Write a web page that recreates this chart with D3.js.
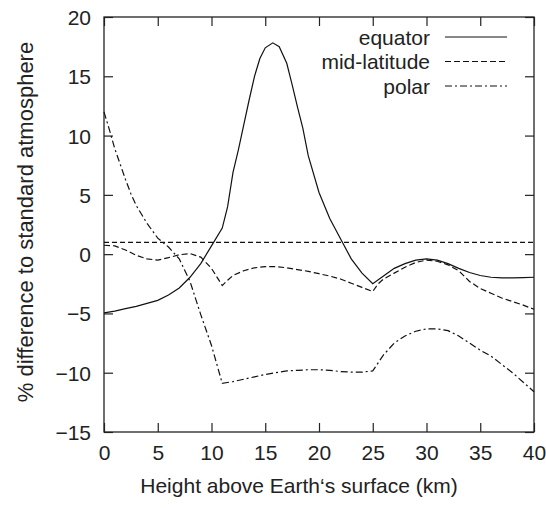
<!DOCTYPE html>
<html>
<head>
<meta charset="utf-8">
<script src="https://cdn.jsdelivr.net/npm/d3@7"></script>
<style>
  body { margin: 0; background: #fff; }
  text { font-family: "Liberation Sans", Arial, sans-serif; fill: #222; }
</style>
</head>
<body>
<svg id="chart" width="546" height="508"></svg>
<script>
// ---- data ----
const xTicks = [0, 5, 10, 15, 20, 25, 30, 35, 40];
const yTicks = [-15, -10, -5, 0, 5, 10, 15, 20];
const seriesNames = ["equator", "mid-latitude", "polar"];
const referenceLevel = 1;

const equatorX = [0,1,2,3,4,5,6,7,8,9,10,11,11.5,12,12.5,13,13.5,14,14.5,15,15.7,16.3,17,17.5,18,18.5,19,20,21,22,23,24,25,26,27,28,29,30,31,32,33,34,35,36,37,38,39,40];
const equatorY = [-4.95,-4.8,-4.6,-4.4,-4.15,-3.9,-3.45,-2.85,-1.95,-0.8,0.7,2.2,4.0,6.9,8.8,10.9,13.0,15.0,16.5,17.4,17.82,17.5,16.1,14.3,12.4,10.6,8.3,5.2,3.0,1.3,-0.4,-1.6,-2.5,-1.85,-1.2,-0.8,-0.5,-0.4,-0.5,-0.8,-1.2,-1.55,-1.8,-1.95,-2.0,-2.0,-1.98,-1.95];

const midX = [0,1,2,3,4,5,6,7,8,9,10,11,11.5,12,13,14,15,16,17,18,19,20,21,22,23,24,25,25.5,26,27,28,29,30,31,32,33,34,35,36,37,38,39,40];
const midY = [0.75,0.7,0.35,-0.1,-0.4,-0.5,-0.3,-0.05,0.05,-0.25,-1.2,-2.65,-2.2,-1.8,-1.4,-1.15,-1.05,-1.05,-1.15,-1.3,-1.45,-1.65,-1.85,-2.1,-2.45,-2.8,-3.15,-2.5,-2.1,-1.6,-1.1,-0.7,-0.5,-0.6,-0.9,-1.4,-2.3,-2.9,-3.3,-3.7,-4.0,-4.3,-4.65];

const polarX = [0,0.5,1,1.5,2,2.5,3,4,5,6,7,8,9,10,11,12,13,14,15,16,17,18,19,20,21,22,23,24,25,26,27,28,29,30,31,32,33,34,35,36,37,38,39,40];
const polarY = [12.0,10.5,8.9,7.6,6.3,5.1,4.1,2.6,1.35,0.6,-0.4,-2.3,-5.1,-7.7,-10.9,-10.75,-10.55,-10.35,-10.15,-10.0,-9.85,-9.8,-9.75,-9.75,-9.8,-9.9,-9.95,-9.95,-9.85,-8.5,-7.5,-6.9,-6.5,-6.3,-6.3,-6.45,-6.9,-7.5,-8.1,-8.6,-9.3,-10.0,-10.8,-11.6];

// ---- layout ----
const svg = d3.select("#chart");
const mLeft = 104, mRight = 534, mTop = 17, mBottom = 432;
const x = d3.scaleLinear().domain([0, 40]).range([mLeft, mRight]);
const y = d3.scaleLinear().domain([-15, 20]).range([mBottom, mTop]);

const series = [
  {name: seriesNames[0], xs: equatorX, ys: equatorY, dash: null},
  {name: seriesNames[1], xs: midX, ys: midY, dash: "6,3"},
  {name: seriesNames[2], xs: polarX, ys: polarY, dash: "7,3,2,3"}
];

// axes with inward ticks (mirrored)
const tickLen = 9;
const gB = svg.append("g").attr("transform", `translate(0,${mBottom})`)
  .call(d3.axisBottom(x).tickValues(xTicks).tickSizeInner(-tickLen).tickSizeOuter(0).tickPadding(13));
const gT = svg.append("g").attr("transform", `translate(0,${mTop})`)
  .call(d3.axisTop(x).tickValues(xTicks).tickSizeInner(-tickLen).tickSizeOuter(0).tickFormat(""));
const gL = svg.append("g").attr("transform", `translate(${mLeft},0)`)
  .call(d3.axisLeft(y).tickValues(yTicks).tickSizeInner(-tickLen).tickSizeOuter(0).tickPadding(13));
const gR = svg.append("g").attr("transform", `translate(${mRight},0)`)
  .call(d3.axisRight(y).tickValues(yTicks).tickSizeInner(-tickLen).tickSizeOuter(0).tickFormat(""));

[gB, gT, gL, gR].forEach(g => {
  g.select(".domain").remove();
  g.selectAll(".tick line").attr("stroke", "#222").attr("stroke-width", 1.2);
  g.selectAll("text").attr("font-size", 21).attr("fill", "#222")
    .attr("font-family", "'Liberation Sans', Arial, sans-serif");
});
gL.selectAll("text").attr("dy", "0.36em");
gB.selectAll("text").attr("dy", "0.71em");

// frame
svg.append("rect").attr("x", mLeft).attr("y", mTop)
  .attr("width", mRight - mLeft).attr("height", mBottom - mTop)
  .attr("fill", "none").attr("stroke", "#222").attr("stroke-width", 1.3);

// reference line
svg.append("line")
  .attr("x1", x(0)).attr("x2", x(40))
  .attr("y1", y(referenceLevel)).attr("y2", y(referenceLevel))
  .attr("stroke", "#111").attr("stroke-width", 1.2).attr("stroke-dasharray", "5,3");

// series
const line = d3.line().x(d => x(d[0])).y(d => y(d[1]));
series.forEach(s => {
  const pts = s.xs.map((v, i) => [v, s.ys[i]]);
  svg.append("path").datum(pts)
    .attr("d", line)
    .attr("fill", "none")
    .attr("stroke", "#111")
    .attr("stroke-width", 1.2)
    .attr("stroke-dasharray", s.dash);
});

// legend
const legTextX = 430, legLineX1 = 445, legLineX2 = 507;
const legY = [37, 61.5, 86];
series.forEach((s, i) => {
  svg.append("text").attr("x", legTextX).attr("y", legY[i])
    .attr("dy", "0.36em").attr("text-anchor", "end").attr("font-size", 21)
    .text(s.name);
  svg.append("line").attr("x1", legLineX1).attr("x2", legLineX2)
    .attr("y1", legY[i]).attr("y2", legY[i])
    .attr("stroke", "#111").attr("stroke-width", 1.2)
    .attr("stroke-dasharray", s.dash);
});

// axis titles
svg.append("text").attr("x", 299).attr("y", 493)
  .attr("text-anchor", "middle").attr("font-size", 21)
  .text("Height above Earth\u2018s surface (km)");
svg.append("text")
  .attr("transform", `translate(33,222) rotate(-90)`)
  .attr("text-anchor", "middle").attr("font-size", 22)
  .text("% difference to standard atmosphere");
</script>
</body>
</html>
